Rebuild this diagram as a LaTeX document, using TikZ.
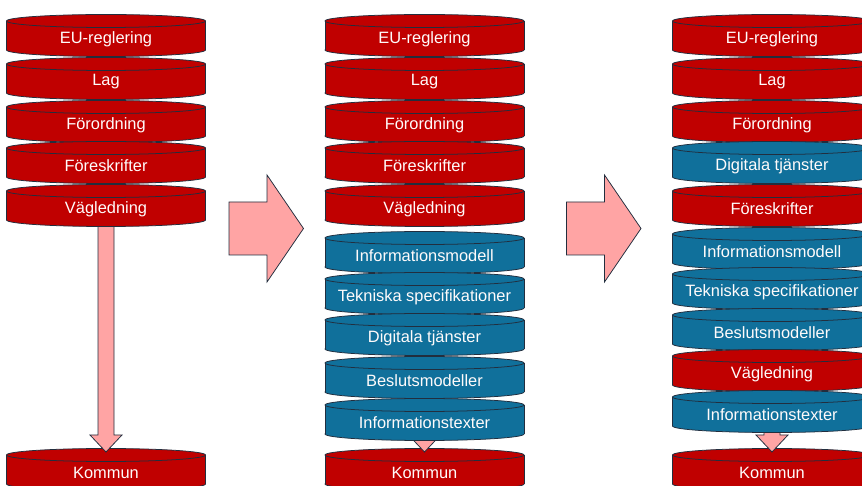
\documentclass[tikz,border=0pt]{standalone}
\usepackage{fontspec}
\setmainfont{Liberation Sans}
\usetikzlibrary{calc}

\definecolor{rodfarg}{RGB}{192,0,0}
\definecolor{blafarg}{RGB}{16,112,155}
\definecolor{rosa}{RGB}{255,164,164}
\definecolor{kant}{RGB}{34,46,62}

% one disk of a stack: #1 name, #2 x, #3 y of label, #4 fill, #5 text
\newcommand{\skiva}[5]{%
  \filldraw[kantlinje, fill=#4] (#2,#3+11) ellipse[x radius=99.5, y radius=6.5];
  \fill[#4] (#2-99.5,#3-18) rectangle (#2+99.5,#3+11);
  \draw[kantlinje] (#2-99.5,#3-18) -- (#2-99.5,#3+11) (#2+99.5,#3-18) -- (#2+99.5,#3+11);
  \filldraw[kantlinje, fill=#4] (#2,#3-18) ellipse[x radius=99.5, y radius=6.5];
  \node[etikett] (#1) at (#2,#3) {#5};
}
% down arrow from #1 to tip #2
\newcommand{\nedpil}[2]{%
  \filldraw[pil] ($(#1)+(-8,0)$) -- ($(#2)+(-8,-17)$) -- ($(#2)+(-16,-17)$) -- (#2)
    -- ($(#2)+(16,-17)$) -- ($(#2)+(8,-17)$) -- ($(#1)+(8,0)$) -- cycle;
}
% right arrow from tail #1 to tip #2
\newcommand{\hogerpil}[2]{%
  \filldraw[pil] ($(#1)+(0,-26.5)$) -- ($(#2)+(-36.5,-26.5)$) -- ($(#2)+(-36.5,-53.5)$) -- (#2)
    -- ($(#2)+(-36.5,53.5)$) -- ($(#2)+(-36.5,26.5)$) -- ($(#1)+(0,26.5)$) -- cycle;
}

\begin{document}
\begin{tikzpicture}[x=0.03cm, y=-0.03cm,
    kantlinje/.style={draw=kant, line width=0.65pt},
    etikett/.style={text=white!94!pink, font=\fontsize{14}{16}\selectfont},
    pil/.style={draw=kant, line width=0.65pt, fill=rosa}]
  \useasboundingbox (0,0) rectangle (862,486);
  \clip (0,0) rectangle (862,486);

  % column 1
  \skiva{ettk}{106}{473}{rodfarg}{Kommun}
  \coordinate (ettstart) at (106,220);
  \coordinate (ettspets) at (106,452);
  \nedpil{ettstart}{ettspets}
  \foreach \ly/\fg/\txt [count=\i] in {39/rodfarg/EU-reglering, 82/rodfarg/Lag,
      125/rodfarg/Förordning, 166/rodfarg/Föreskrifter, 209/rodfarg/Vägledning}
    {\skiva{ett\i}{106}{\ly}{\fg}{\txt}}

  % column 2
  \skiva{tvak}{424.5}{473}{rodfarg}{Kommun}
  \coordinate (tvastart) at (424.5,420);
  \coordinate (tvaspets) at (424.5,452);
  \nedpil{tvastart}{tvaspets}
  \foreach \ly/\fg/\txt [count=\i] in {39/rodfarg/EU-reglering, 82/rodfarg/Lag,
      125/rodfarg/Förordning, 166/rodfarg/Föreskrifter, 209/rodfarg/Vägledning,
      256/blafarg/Informationsmodell, 297/blafarg/Tekniska specifikationer,
      338/blafarg/Digitala tjänster, 381/blafarg/Beslutsmodeller,
      423/blafarg/Informationstexter}
    {\skiva{tva\i}{424.5}{\ly}{\fg}{\txt}}

  % column 3
  \skiva{trek}{772}{473}{rodfarg}{Kommun}
  \coordinate (trestart) at (772,410);
  \coordinate (trespets) at (772,452);
  \nedpil{trestart}{trespets}
  \foreach \ly/\fg/\txt [count=\i] in {39/rodfarg/EU-reglering, 82/rodfarg/Lag,
      125/rodfarg/Förordning, 166/blafarg/Digitala tjänster, 209/rodfarg/Föreskrifter,
      252/blafarg/Informationsmodell, 292/blafarg/Tekniska specifikationer,
      333/blafarg/Beslutsmodeller, 374/rodfarg/Vägledning,
      415/blafarg/Informationstexter}
    {\skiva{tre\i}{772}{\ly}{\fg}{\txt}}

  % arrows between the columns
  \coordinate (h1) at (229,228.5);
  \coordinate (h1spets) at (303.5,228.5);
  \hogerpil{h1}{h1spets}
  \coordinate (h2) at (566.5,228.5);
  \coordinate (h2spets) at (641,228.5);
  \hogerpil{h2}{h2spets}
\end{tikzpicture}
\end{document}
